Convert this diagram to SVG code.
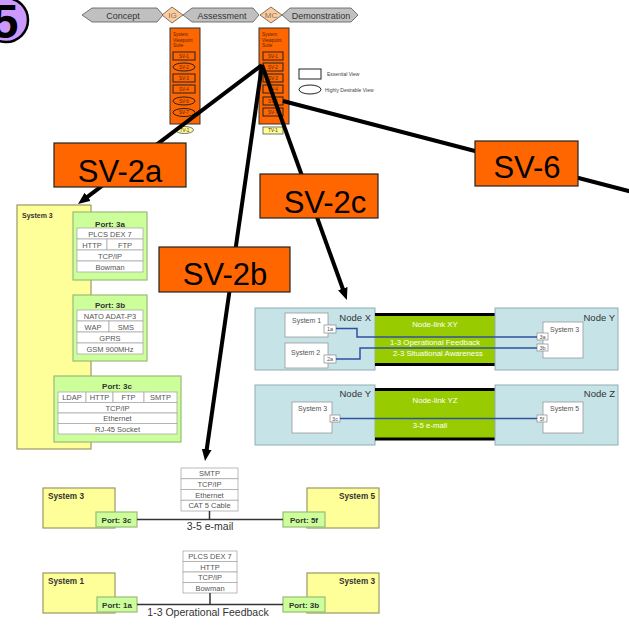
<svg xmlns="http://www.w3.org/2000/svg" width="629" height="628" viewBox="0 0 629 628">
  <style>
    text { font-family: "Liberation Sans", Arial, sans-serif; }
    .chev { fill: #C0C0C0; stroke: #555; stroke-width: 0.8; }
    .dia { fill: #FFCC99; stroke: #555; stroke-width: 0.8; }
    .chevt { font-size: 9px; fill: #333; text-anchor: middle; }
    .diat { font-size: 8px; fill: #777; text-anchor: middle; }
    .suite { fill: #FF6600; stroke: #333; stroke-width: 1; }
    .sv { fill: #FF6600; stroke: #222; stroke-width: 1; }
    .tiny { font-size: 4.5px; fill: #552200; }
    .tinyc { font-size: 4.5px; fill: #552200; text-anchor: middle; }
    .tv { fill: #FFFF99; stroke: #555; stroke-width: 0.8; }
    .legend { fill: #fff; stroke: #222; stroke-width: 1; }
    .legt { font-size: 5px; fill: #444; }
    .conn { stroke: #000; stroke-width: 4; fill: none; }
    .call { fill: #FF6600; stroke: #222; stroke-width: 1.2; }
    .callt { font-size: 31px; fill: #000; text-anchor: middle; }
    .sys { fill: #FFFF99; stroke: #999966; stroke-width: 1.2; }
    .port { fill: #CCFF99; stroke: #99BB77; stroke-width: 1.2; }
    .row { fill: #fff; stroke: #AAAAAA; stroke-width: 0.8; }
    .rowt { font-size: 7.5px; fill: #555; text-anchor: middle; }
    .bold { font-weight: bold; fill: #333; }
    .node { fill: #C6E3E8; stroke: #90AEB3; stroke-width: 1; }
    .band { fill: #99CC00; }
    .bandedge { stroke: #000; stroke-width: 3; }
    .inner { fill: #fff; stroke: #999; stroke-width: 0.8; }
    .pbox { fill: #fff; stroke: #888; stroke-width: 0.7; }
    .nodet { font-size: 9.5px; fill: #333; text-anchor: end; }
    .linkt { font-size: 7.8px; fill: #fff; text-anchor: middle; }
    .syst { font-size: 7px; fill: #555; }
    .pt { font-size: 5.5px; fill: #555; text-anchor: middle; }
    .blue { stroke: #3050A0; stroke-width: 1.5; fill: none; }
    .wire { stroke: #333; stroke-width: 1.5; }
    .wiret { font-size: 10.5px; fill: #333; text-anchor: middle; }
  </style>
  <defs>
    <marker id="arrow" viewBox="0 0 12 10" refX="6" refY="5" markerWidth="12" markerHeight="10" markerUnits="userSpaceOnUse" orient="auto">
      <path d="M0,0 L12,5 L0,10 z" fill="#000"/>
    </marker>
  </defs>

  <!-- step badge -->
  <g id="badge">
    <circle cx="6" cy="20" r="22" fill="#CC99FF" stroke="#000" stroke-width="2.5"/>
    <text x="5" y="38" font-size="48" font-weight="bold" text-anchor="middle" fill="#000">5</text>
  </g>

  <!-- phase bar -->
  <g id="phases">
    <polygon class="chev" points="82,15 92,8 157,8 163,15 157,22 92,22"/>
    <text class="chevt" x="123" y="18.5">Concept</text>
    <polygon class="dia" points="162,15 172,7 183,15 172,23"/>
    <text class="diat" x="172.5" y="18">IG</text>
    <polygon class="chev" points="183,15 192,8 253,8 259,15 253,22 192,22"/>
    <text class="chevt" x="222" y="18.5">Assessment</text>
    <polygon class="dia" points="260,15 271,7 282,15 271,23"/>
    <text class="diat" x="271" y="18">MC</text>
    <polygon class="chev" points="282,15 290,8 351,8 358,15 351,22 290,22"/>
    <text class="chevt" x="321" y="18.5">Demonstration</text>
  </g>

  <!-- viewpoint suite, IG column -->
  <g id="suite-ig">
    <rect class="suite" x="170" y="28" width="30" height="96"/>
    <text class="tiny" x="173" y="36">System</text>
    <text class="tiny" x="173" y="41.5">Viewpoint</text>
    <text class="tiny" x="173" y="47">Suite</text>
    <rect class="sv" x="173" y="52" width="22" height="8"/>
    <text class="tinyc" x="184" y="57.5">SV-1</text>
    <ellipse class="sv" cx="184" cy="67" rx="11" ry="4"/>
    <text class="tinyc" x="184" y="68.5">SV-2</text>
    <rect class="sv" x="173" y="74" width="22" height="8"/>
    <text class="tinyc" x="184" y="79.5">SV-3</text>
    <rect class="sv" x="173" y="85" width="22" height="8"/>
    <text class="tinyc" x="184" y="90.5">SV-4</text>
    <ellipse class="sv" cx="184" cy="101" rx="11" ry="4"/>
    <text class="tinyc" x="184" y="102.5">SV-6</text>
    <ellipse class="sv" cx="184" cy="112.5" rx="11" ry="4"/>
    <text class="tinyc" x="184" y="114">SV-7</text>
    <ellipse class="tv" cx="184.5" cy="130" rx="9" ry="3.5"/>
    <text class="tinyc" x="184.5" y="131.5">TV-1</text>
  </g>

  <!-- viewpoint suite, MC column -->
  <g id="suite-mc">
    <rect class="suite" x="259" y="28" width="30" height="96"/>
    <text class="tiny" x="262" y="36">System</text>
    <text class="tiny" x="262" y="41.5">Viewpoint</text>
    <text class="tiny" x="262" y="47">Suite</text>
    <rect class="sv" x="263" y="52" width="20" height="8"/>
    <text class="tinyc" x="273" y="57.5">SV-1</text>
    <rect class="sv" x="263" y="63" width="20" height="8"/>
    <text class="tinyc" x="273" y="68.5">SV-2</text>
    <rect class="sv" x="263" y="74" width="20" height="8"/>
    <text class="tinyc" x="273" y="79.5">SV-3</text>
    <rect class="sv" x="263" y="85" width="20" height="8"/>
    <text class="tinyc" x="273" y="90.5">SV-4</text>
    <rect class="sv" x="263" y="97" width="20" height="8"/>
    <text class="tinyc" x="273" y="102.5">SV-6</text>
    <rect class="sv" x="263" y="108" width="20" height="8"/>
    <text class="tinyc" x="273" y="113.5">SV-7</text>
    <rect class="tv" x="263" y="127" width="20" height="7"/>
    <text class="tinyc" x="273" y="132">TV-1</text>
  </g>

  <!-- legend -->
  <g id="legend">
    <rect class="legend" x="299" y="69" width="22" height="10"/>
    <text class="legt" x="327" y="76">Essential View</text>
    <ellipse class="legend" cx="310" cy="89.5" rx="11" ry="4.5"/>
    <text class="legt" x="325" y="91.5">Highly Desirable View</text>
  </g>

  <!-- connectors -->
  <g id="connectors">
    <line class="conn" x1="262" y1="65" x2="82.8" y2="200.4" marker-end="url(#arrow)"/>
    <line class="conn" x1="262" y1="65" x2="205.9" y2="455.1" marker-end="url(#arrow)"/>
    <line class="conn" x1="262" y1="65" x2="344.8" y2="294.3" marker-end="url(#arrow)"/>
    <line class="conn" x1="283" y1="101" x2="640" y2="194"/>
  </g>

  <!-- callout labels -->
  <g id="callout-sv2a">
    <rect class="call" x="54" y="143" width="132" height="44"/>
    <text class="callt" x="120" y="181.5" font-size="32">SV-2a</text>
  </g>
  <g id="callout-sv2c">
    <rect class="call" x="260" y="174" width="118" height="44"/>
    <text class="callt" x="325" y="213">SV-2c</text>
  </g>
  <g id="callout-sv2b">
    <rect class="call" x="159" y="247" width="131" height="45"/>
    <text class="callt" x="225" y="285">SV-2b</text>
  </g>
  <g id="callout-sv6">
    <rect class="call" x="475" y="141" width="103" height="45"/>
    <text class="callt" x="527" y="178">SV-6</text>
  </g>

  <!-- SV-2a: System 3 port stacks -->
  <g id="sv2a-system3">
    <rect class="sys" x="17" y="205" width="74" height="244"/>
    <text class="bold" x="22" y="218" font-size="7">System 3</text>
  </g>
  <g id="sv2a-port3a">
    <rect class="port" x="73" y="212" width="74" height="68"/>
    <text class="bold" x="110" y="227" font-size="8" text-anchor="middle">Port: 3a</text>
    <rect class="row" x="77" y="228" width="66" height="11"/>
    <rect class="row" x="77" y="239" width="30" height="11"/>
    <rect class="row" x="107" y="239" width="36" height="11"/>
    <rect class="row" x="77" y="250" width="66" height="11"/>
    <rect class="row" x="77" y="261" width="66" height="11"/>
    <text class="rowt" x="110" y="236.5">PLCS DEX 7</text>
    <text class="rowt" x="92" y="247.5">HTTP</text>
    <text class="rowt" x="125" y="247.5">FTP</text>
    <text class="rowt" x="110" y="258.5">TCP/IP</text>
    <text class="rowt" x="110" y="269.5">Bowman</text>
  </g>
  <g id="sv2a-port3b">
    <rect class="port" x="73" y="295" width="74" height="66"/>
    <text class="bold" x="110" y="307.5" font-size="8" text-anchor="middle">Port: 3b</text>
    <rect class="row" x="77" y="310" width="66" height="11"/>
    <rect class="row" x="77" y="321" width="32" height="11"/>
    <rect class="row" x="109" y="321" width="34" height="11"/>
    <rect class="row" x="77" y="332" width="66" height="11"/>
    <rect class="row" x="77" y="343" width="66" height="11"/>
    <text class="rowt" x="110" y="318.5">NATO ADAT-P3</text>
    <text class="rowt" x="93" y="329.5">WAP</text>
    <text class="rowt" x="126" y="329.5">SMS</text>
    <text class="rowt" x="110" y="340.5">GPRS</text>
    <text class="rowt" x="110" y="351.5">GSM 900MHz</text>
  </g>
  <g id="sv2a-port3c">
    <rect class="port" x="54" y="376" width="127" height="66"/>
    <text class="bold" x="117" y="388.5" font-size="8" text-anchor="middle">Port: 3c</text>
    <rect class="row" x="58" y="392" width="28" height="10.5"/>
    <rect class="row" x="86" y="392" width="27" height="10.5"/>
    <rect class="row" x="113" y="392" width="31" height="10.5"/>
    <rect class="row" x="144" y="392" width="33" height="10.5"/>
    <rect class="row" x="58" y="402.5" width="119" height="10.5"/>
    <rect class="row" x="58" y="413" width="119" height="10.5"/>
    <rect class="row" x="58" y="423.5" width="119" height="10.5"/>
    <text class="rowt" x="72" y="400">LDAP</text>
    <text class="rowt" x="99.5" y="400">HTTP</text>
    <text class="rowt" x="128.5" y="400">FTP</text>
    <text class="rowt" x="160.5" y="400">SMTP</text>
    <text class="rowt" x="117.5" y="410.5">TCP/IP</text>
    <text class="rowt" x="117.5" y="421">Ethernet</text>
    <text class="rowt" x="117.5" y="431.5">RJ-45 Socket</text>
  </g>

  <!-- SV-2c: node links -->
  <g id="sv2c-node-x">
    <rect class="node" x="255" y="308" width="120" height="62"/>
    <text class="nodet" x="371" y="321">Node X</text>
    <rect class="inner" x="285" y="313" width="43" height="24"/>
    <text class="syst" x="292" y="323">System 1</text>
    <rect class="pbox" x="324" y="325" width="12" height="8"/>
    <text class="pt" x="330" y="331">1a</text>
    <rect class="inner" x="285" y="343" width="43" height="25"/>
    <text class="syst" x="291" y="355">System 2</text>
    <rect class="pbox" x="324" y="355" width="12" height="8"/>
    <text class="pt" x="330" y="361">2a</text>
  </g>
  <g id="sv2c-link-xy">
    <rect class="band" x="375" y="314" width="120" height="51"/>
    <line class="bandedge" x1="375" y1="314.5" x2="495" y2="314.5"/>
    <line class="bandedge" x1="375" y1="364.5" x2="495" y2="364.5"/>
    <text class="linkt" x="435" y="327">Node-link XY</text>
  </g>
  <g id="sv2c-node-y">
    <rect class="node" x="495" y="308" width="123" height="62"/>
    <text class="nodet" x="615" y="321">Node Y</text>
    <rect class="inner" x="543" y="322" width="40" height="36"/>
    <text class="syst" x="550" y="332">System 3</text>
    <rect class="pbox" x="537" y="333" width="11" height="7"/>
    <text class="pt" x="542.5" y="338.5">3a</text>
    <rect class="pbox" x="537" y="344" width="11" height="7"/>
    <text class="pt" x="542.5" y="349.5">3b</text>
  </g>
  <g id="sv2c-flows-xy">
    <polyline class="blue" points="336,328.5 357,328.5 357,337 537,337"/>
    <polyline class="blue" points="336,359 360,359 360,348 537,348"/>
    <text class="linkt" x="435" y="345" font-size="7.5">1-3 Operational Feedback</text>
    <text class="linkt" x="438" y="356" font-size="7.5">2-3 Situational Awareness</text>
  </g>

  <g id="sv2c-node-y2">
    <rect class="node" x="255" y="385" width="120" height="60"/>
    <text class="nodet" x="371" y="397">Node Y</text>
    <rect class="inner" x="292" y="402" width="40" height="31"/>
    <text class="syst" x="298" y="411">System 3</text>
    <rect class="pbox" x="330" y="415" width="10" height="7"/>
    <text class="pt" x="335" y="420.5">3c</text>
  </g>
  <g id="sv2c-link-yz">
    <rect class="band" x="375" y="389" width="120" height="51"/>
    <line class="bandedge" x1="375" y1="389.5" x2="495" y2="389.5"/>
    <line class="bandedge" x1="375" y1="439" x2="495" y2="439"/>
    <text class="linkt" x="435" y="403">Node-link YZ</text>
  </g>
  <g id="sv2c-node-z">
    <rect class="node" x="495" y="385" width="123" height="60"/>
    <text class="nodet" x="615" y="397">Node Z</text>
    <rect class="inner" x="543" y="402" width="40" height="31"/>
    <text class="syst" x="550" y="411">System 5</text>
    <rect class="pbox" x="537" y="415" width="10" height="7"/>
    <text class="pt" x="542" y="420.5">5f</text>
  </g>
  <g id="sv2c-flows-yz">
    <line class="blue" x1="340" y1="418.5" x2="537" y2="418.5"/>
    <text class="linkt" x="430" y="427.5" font-size="6.5">3-5 e-mail</text>
  </g>

  <!-- SV-2b: system interfaces -->
  <g id="sv2b-stack-email">
    <rect class="row" x="181" y="468" width="57" height="10.75"/>
    <rect class="row" x="181" y="478.75" width="57" height="10.75"/>
    <rect class="row" x="181" y="489.5" width="57" height="10.75"/>
    <rect class="row" x="181" y="500.25" width="57" height="10.75"/>
    <text class="rowt" x="209.5" y="476">SMTP</text>
    <text class="rowt" x="209.5" y="486.75">TCP/IP</text>
    <text class="rowt" x="209.5" y="497.5">Ethernet</text>
    <text class="rowt" x="209.5" y="508.25">CAT 5 Cable</text>
  </g>
  <g id="sv2b-system3-top">
    <rect class="sys" x="43" y="488" width="72" height="40"/>
    <text class="bold" x="48" y="499" font-size="8.2">System 3</text>
  </g>
  <g id="sv2b-port3c">
    <rect class="port" x="96" y="512" width="41" height="15"/>
    <text class="bold" x="116.5" y="522.5" font-size="8" text-anchor="middle">Port: 3c</text>
  </g>
  <g id="sv2b-system5">
    <rect class="sys" x="307" y="488" width="72" height="40"/>
    <text class="bold" x="375" y="499" font-size="8.2" text-anchor="end">System 5</text>
  </g>
  <g id="sv2b-port5f">
    <rect class="port" x="283" y="512" width="42" height="15"/>
    <text class="bold" x="304" y="522.5" font-size="8" text-anchor="middle">Port: 5f</text>
  </g>

  <g id="sv2b-stack-feedback">
    <rect class="row" x="183" y="551" width="54" height="10.5"/>
    <rect class="row" x="183" y="561.5" width="54" height="10.5"/>
    <rect class="row" x="183" y="572" width="54" height="10.5"/>
    <rect class="row" x="183" y="582.5" width="54" height="10.5"/>
    <text class="rowt" x="210" y="559">PLCS DEX 7</text>
    <text class="rowt" x="210" y="569.5">HTTP</text>
    <text class="rowt" x="210" y="580">TCP/IP</text>
    <text class="rowt" x="210" y="590.5">Bowman</text>
  </g>
  <g id="sv2b-system1">
    <rect class="sys" x="43" y="573" width="72" height="40"/>
    <text class="bold" x="48" y="584" font-size="8.2">System 1</text>
  </g>
  <g id="sv2b-port1a">
    <rect class="port" x="97" y="597" width="40" height="15"/>
    <text class="bold" x="117" y="607.5" font-size="8" text-anchor="middle">Port: 1a</text>
  </g>
  <g id="sv2b-system3-bottom">
    <rect class="sys" x="307" y="573" width="72" height="40"/>
    <text class="bold" x="375" y="584" font-size="8.2" text-anchor="end">System 3</text>
  </g>
  <g id="sv2b-port3b">
    <rect class="port" x="283" y="597" width="42" height="15"/>
    <text class="bold" x="304" y="607.5" font-size="8" text-anchor="middle">Port: 3b</text>
  </g>

  <g id="sv2b-wires">
    <line class="wire" x1="209.5" y1="511" x2="209.5" y2="519.5"/>
    <line class="wire" x1="137" y1="519.5" x2="283" y2="519.5"/>
    <text class="wiret" x="210" y="530">3-5 e-mail</text>
    <line class="wire" x1="210" y1="593" x2="210" y2="604.5"/>
    <line class="wire" x1="137" y1="604.5" x2="283" y2="604.5"/>
    <text class="wiret" x="208" y="616" font-size="10">1-3 Operational Feedback</text>
  </g>
</svg>
